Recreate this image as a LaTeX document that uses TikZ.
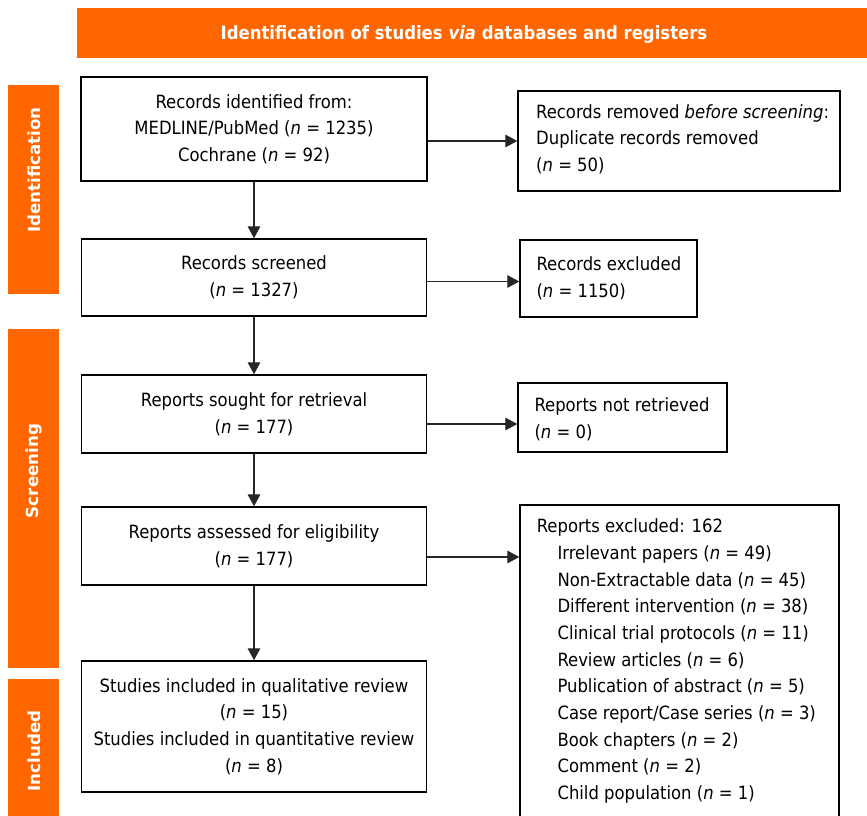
\documentclass[tikz,border=0pt]{standalone}
\usepackage{fontspec}
\setmainfont{DejaVu Sans Condensed}
\newfontfamily\sidefont{DejaVu Sans}
\usetikzlibrary{arrows.meta}
\definecolor{prisma}{HTML}{FF6600}
\begin{document}
\begin{tikzpicture}[x=0.75pt,y=-0.75pt,
  box/.style={draw=black, line width=1.1pt, rectangle, inner sep=0pt,
    font=\fontsize{13.7}{20}\selectfont, align=center},
  txt/.style={inner sep=0pt, font=\fontsize{13.7}{20}\selectfont, align=left, anchor=west},
  arr/.style={draw=black!85, line width=0.8pt, -{Triangle[length=9pt,width=9.5pt]}},
  side/.style={text=white, font=\sidefont\bfseries\fontsize{12.5}{15}\selectfont, rotate=90},
  ttl/.style={text=white, font=\bfseries\fontsize{13.75}{16}\selectfont},
]
\useasboundingbox (0,0) rectangle (867,816);
% banner and side bars
\fill[prisma] (77,8) rectangle (867,58);
\node[ttl] (title) at (464,35) {Identification of studies \emph{via} databases and registers};
\fill[prisma] (8,85) rectangle (59,294);
\fill[prisma] (8,329) rectangle (59,668);
\fill[prisma] (8,679) rectangle (59,830);
\node[side] (sid) at (34,170) {Identification};
\node[side] (sscr) at (34,471) {Screening};
\node[side] (sinc) at (34,751) {Included};
% left column
\node[box, minimum width=259.5pt, minimum height=78pt] (b1) at (254,129)
  {Records identified from:\\MEDLINE/PubMed (\emph{n} = 1235)\\Cochrane (\emph{n} = 92)};
\node[box, minimum width=258.75pt, minimum height=57.75pt] (b3) at (254,277.5)
  {Records screened\\(\emph{n} = 1327)};
\node[box, minimum width=258.75pt, minimum height=58.5pt] (b5) at (254,414)
  {Reports sought for retrieval\\(\emph{n} = 177)};
\node[box, minimum width=258.75pt, minimum height=58.5pt] (b7) at (254,546)
  {Reports assessed for eligibility\\(\emph{n} = 177)};
\node[box, minimum width=258.75pt, minimum height=98.25pt] (b9) at (254,726.5)
  {Studies included in qualitative review\\(\emph{n} = 15)\\Studies included in quantitative review\\(\emph{n} = 8)};
% right column
\node[box, minimum width=241.5pt, minimum height=75pt] (b2) at (679,141) {};
\node[txt] (b2t) at ([xshift=14pt,yshift=1.5pt]b2.west)
  {Records removed \emph{before screening}:\\Duplicate records removed\\(\emph{n} = 50)};
\node[box, minimum width=132.75pt, minimum height=57.75pt] (b4) at (608.5,278.5) {};
\node[txt] (b4t) at ([xshift=12.75pt]b4.west) {Records excluded\\(\emph{n} = 1150)};
\node[box, minimum width=156.75pt, minimum height=51.75pt] (b6) at (622.5,417.5) {};
\node[txt] (b6t) at ([xshift=12.75pt,yshift=-1.5pt]b6.west) {Reports not retrieved\\(\emph{n} = 0)};
\node[box, minimum width=239.25pt, minimum height=234pt] (b8) at (679.5,661) {};
\node[txt] (b8t) at ([xshift=13pt]b8.west)
  {Reports excluded: 162\\
   \hspace*{15.5pt}Irrelevant papers (\emph{n} = 49)\\
   \hspace*{15.5pt}Non-Extractable data (\emph{n} = 45)\\
   \hspace*{15.5pt}Different intervention (\emph{n} = 38)\\
   \hspace*{15.5pt}Clinical trial protocols (\emph{n} = 11)\\
   \hspace*{15.5pt}Review articles (\emph{n} = 6)\\
   \hspace*{15.5pt}Publication of abstract (\emph{n} = 5)\\
   \hspace*{15.5pt}Case report/Case series (\emph{n} = 3)\\
   \hspace*{15.5pt}Book chapters (\emph{n} = 2)\\
   \hspace*{15.5pt}Comment (\emph{n} = 2)\\
   \hspace*{15.5pt}Child population (\emph{n} = 1)};
% connectors
\draw[arr] (b1) -- (b3);
\draw[arr] (b3) -- (b5);
\draw[arr] (b5) -- (b7);
\draw[arr] (b7) -- (b9);
\draw[arr] (b1.east |- b2.west) -- (b2.west);
\draw[arr] ([yshift=-3pt]b3.east) coordinate (s3) -- (s3 -| b4.west);
\draw[arr] ([yshift=-7.5pt]b5.east) coordinate (s5) -- (s5 -| b6.west);
\draw[arr] ([yshift=-8.25pt]b7.east) coordinate (s7) -- (s7 -| b8.west);
\end{tikzpicture}
\end{document}
